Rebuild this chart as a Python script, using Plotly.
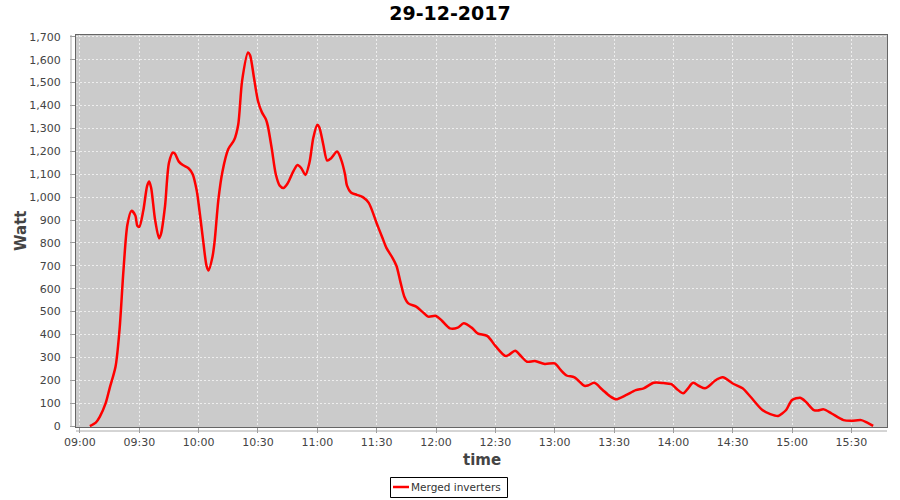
import plotly.graph_objects as go

TITLE = "29-12-2017"
SERIES_NAME = "Merged inverters"

TIMES = [
    "09:05", "09:08", "09:10", "09:13", "09:15", "09:18", "09:20", "09:22", "09:24", "09:26",
    "09:28", "09:29", "09:30", "09:32", "09:34", "09:35", "09:36", "09:38", "09:40", "09:41",
    "09:43", "09:45", "09:47", "09:48", "09:50", "09:52", "09:55", "09:57", "09:59", "10:00",
    "10:02", "10:04", "10:05", "10:07", "10:08", "10:10", "10:12", "10:15", "10:18", "10:20",
    "10:22", "10:25", "10:26", "10:28", "10:30", "10:32", "10:34", "10:35", "10:37", "10:39",
    "10:41", "10:43", "10:45", "10:48", "10:50", "10:52", "10:54", "10:56", "10:58", "11:00",
    "11:01", "11:03", "11:05", "11:07", "11:10", "11:12", "11:14", "11:15", "11:17", "11:20",
    "11:23", "11:26", "11:30", "11:33", "11:35", "11:38", "11:40", "11:42", "11:44", "11:46",
    "11:50", "11:53", "11:56", "12:00", "12:03", "12:07", "12:11", "12:14", "12:18", "12:21",
    "12:26", "12:30", "12:35", "12:37", "12:40", "12:43", "12:46", "12:50", "12:55", "13:00",
    "13:03", "13:06", "13:10", "13:15", "13:17", "13:20", "13:24", "13:28", "13:31", "13:36",
    "13:41", "13:45", "13:50", "13:55", "13:59", "14:02", "14:05", "14:07", "14:10", "14:13",
    "14:16", "14:18", "14:21", "14:25", "14:30", "14:35", "14:39", "14:45", "14:49", "14:53",
    "14:55", "14:57", "15:00", "15:04", "15:05", "15:07", "15:11", "15:13", "15:16", "15:20",
    "15:26", "15:30", "15:35", "15:38", "15:41",
]

WATT = [
    0, 15, 40, 100, 165, 260, 420, 680, 880, 940,
    920, 875, 870, 940, 1050, 1068, 1040, 900, 820, 840,
    960, 1150, 1195, 1190, 1155, 1140, 1125, 1100, 1030, 970,
    830, 700, 680, 740, 800, 990, 1110, 1210, 1250, 1316,
    1510, 1632, 1620, 1520, 1420, 1370, 1340, 1310, 1210, 1100,
    1050, 1040, 1060, 1115, 1140, 1125, 1097, 1150, 1260, 1316,
    1305, 1230, 1160, 1170, 1199, 1165, 1100, 1050, 1020, 1010,
    1000, 975, 886, 820, 777, 735, 700, 630, 565, 536,
    522, 500, 478, 481, 460, 427, 430, 449, 430, 405,
    393, 350, 306, 312, 329, 305, 281, 284, 271, 274,
    245, 221, 213, 176, 178, 189, 160, 130, 117, 135,
    157, 165, 189, 188, 183, 160, 143, 160, 189, 175,
    165, 175, 198, 213, 186, 165, 128, 70, 52, 44,
    55, 70, 114, 124, 120, 106, 70, 68, 73, 55,
    26, 23, 26, 15, 1,
]

DATE = "2017-12-29"
x = [f"{DATE} {t}:00" for t in TIMES]

AXIS_GREY = "#999999"
TEXT_GREY = "#444444"
LINE_RED = "#ff0000"
ML, MT, PLOT_W, PLOT_H = 76, 35, 811, 392


def px_x(p):
    # page pixel -> paper x
    return (p - ML) / PLOT_W


def px_y(p):
    # page pixel -> paper y
    return (MT + PLOT_H - p) / PLOT_H


fig = go.Figure()
fig.add_trace(go.Scatter(
    x=x, y=WATT, mode="lines", name=SERIES_NAME,
    line=dict(color=LINE_RED, width=2.5, shape="spline", smoothing=0.8),
))

fig.update_layout(
    width=900, height=500,
    paper_bgcolor="white", plot_bgcolor="#cbcbcb",
    margin=dict(l=ML, r=900 - ML - PLOT_W, t=MT, b=500 - MT - PLOT_H),
    font=dict(family="DejaVu Sans, sans-serif", size=11, color=TEXT_GREY),
    title=dict(text=f"<b>{TITLE}</b>", x=0.5, xref="container", xanchor="center",
               y=0.973, yref="container", yanchor="middle",
               font=dict(size=19, color="#000000")),
    showlegend=False,
)

fig.update_xaxes(
    type="date", automargin=False,
    range=[f"{DATE} 08:58:00", f"{DATE} 15:48:00"],
    dtick=1800000, tick0=f"{DATE} 09:00:00", tickformat="%H:%M", tickangle=0,
    showgrid=True, gridcolor="#eeeeee", griddash="2px,2px", gridwidth=1,
    ticks="outside", ticklen=5, tickcolor=AXIS_GREY,
    showline=True, linecolor="#666666", mirror=True, linewidth=1,
    zeroline=False,
    tickfont=dict(size=11, color=TEXT_GREY),
)
fig.update_yaxes(
    automargin=False,
    range=[-4, 1708], dtick=100, tickformat=",",
    showgrid=True, gridcolor="#eeeeee", griddash="2px,2px", gridwidth=1,
    ticks="outside", ticklen=5, tickcolor=AXIS_GREY, ticklabelstandoff=7,
    showline=True, linecolor="#666666", mirror=True, linewidth=1,
    zeroline=False,
    tickfont=dict(size=11, color=TEXT_GREY),
)

# axis titles placed by hand (standoff is ignored without automargin)
fig.add_annotation(text="<b>Watt</b>", xref="paper", yref="paper",
                   x=px_x(21), y=0.5, textangle=-90, showarrow=False,
                   xanchor="center", yanchor="middle",
                   font=dict(size=15, color=TEXT_GREY))
fig.add_annotation(text="<b>time</b>", xref="paper", yref="paper",
                   x=0.5, y=px_y(460), showarrow=False,
                   xanchor="center", yanchor="middle",
                   font=dict(size=15, color=TEXT_GREY))

# offset axis lines, like the source chart
fig.add_shape(type="line", xref="paper", yref="paper", x0=px_x(71), x1=px_x(71), y0=0, y1=1,
              line=dict(color="#aaaaaa", width=1))
fig.add_shape(type="line", xref="paper", yref="paper", x0=0, x1=1, y0=px_y(431), y1=px_y(431),
              line=dict(color="#aaaaaa", width=1))

# legend box drawn by hand, the built-in one is too tall
fig.add_shape(type="rect", xref="paper", yref="paper",
              x0=px_x(390.5), x1=px_x(507.5), y0=px_y(497.5), y1=px_y(477.5),
              line=dict(color="#000000", width=1), fillcolor="white")
fig.add_shape(type="line", xref="paper", yref="paper",
              x0=px_x(393), x1=px_x(409), y0=px_y(487), y1=px_y(487),
              line=dict(color=LINE_RED, width=2.5))
fig.add_annotation(text=SERIES_NAME, xref="paper", yref="paper",
                   x=px_x(409), y=px_y(487), showarrow=False,
                   xanchor="left", yanchor="middle",
                   font=dict(size=10.5, color="#333333"))

# drop the default page margin so the figure sits at the window's top-left corner
fig.write_html("out.html", config={"displayModeBar": False},
               post_script="document.body.style.margin = '0';")
